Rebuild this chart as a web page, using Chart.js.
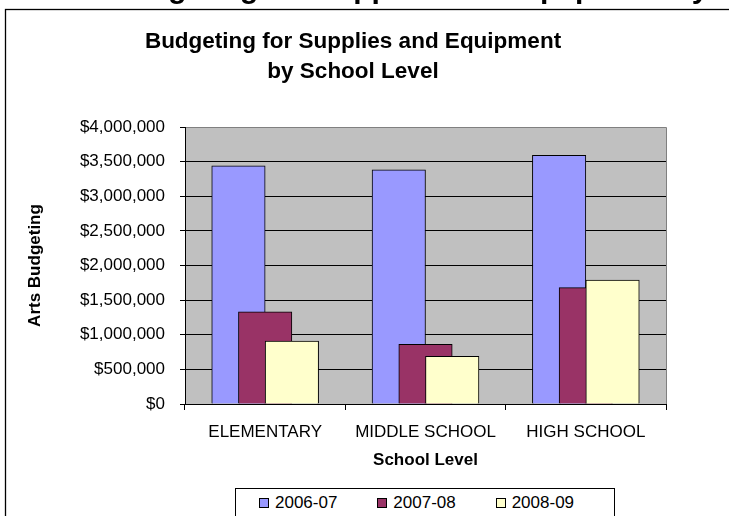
<!DOCTYPE html>
<html>
<head>
<meta charset="utf-8">
<script src="https://cdn.jsdelivr.net/npm/chart.js@4.4.1/dist/chart.umd.min.js"></script>
<style>
  body { margin: 0; background: #fff; overflow: hidden; }
  #wrap { position: relative; width: 729px; height: 516px; }
  #legend {
    position: absolute; left: 235px; top: 488px; width: 380px; height: 40px;
    border: 1px solid #000; background: #fff; box-sizing: border-box;
    padding-left: 23px; display: flex;
    font: 17px "Liberation Sans", Arial, sans-serif; color: #000;
  }
  .item { width: 127px; height: 28px; display: flex; align-items: center; }
  .swatch { width: 8px; height: 8px; border: 1px solid #000; margin-right: 6px; }
</style>
</head>
<body>
<div id="wrap">
  <canvas id="chart" width="729" height="516"></canvas>
  <div id="legend"></div>
</div>
<script>
document.addEventListener("DOMContentLoaded", () => {
    const pageHeading = "Budgeting for Supplies and Equipment by School Level";
    const chartTitle = ["Budgeting for Supplies and Equipment", "by School Level"];
    const categories = ["ELEMENTARY", "MIDDLE SCHOOL", "HIGH SCHOOL"];
    const seriesNames = ["2006-07", "2007-08", "2008-09"];
    const values0607 = [3440000, 3380000, 3590000];
    const values0708 = [1330000, 860000, 1680000];
    const values0809 = [910000, 690000, 1790000];
    const yTicks = [0, 500000, 1000000, 1500000, 2000000, 2500000, 3000000, 3500000, 4000000];
    const seriesColors = ["#9999FF", "#993366", "#FFFFCC"];

    Chart.defaults.font.family = '"Liberation Sans", Arial, sans-serif';
    Chart.defaults.color = "#000";

    // background, outer frame, plot border, and draw datasets in index order (last on top)
    const framePlugin = {
        id: "frame",
        beforeDraw(chart) {
            const { ctx, chartArea: a } = chart;
            ctx.save();
            ctx.fillStyle = "#C0C0C0";
            ctx.fillRect(a.left, a.top, a.right - a.left, a.bottom - a.top);
            ctx.strokeStyle = "#000";
            ctx.lineWidth = 1.3;
            ctx.strokeRect(5.5, 9.5, 900, 700);
            ctx.fillStyle = "#000";
            ctx.font = 'bold 30px "Liberation Sans", Arial, sans-serif';
            ctx.textBaseline = "alphabetic";
            ctx.fillText(pageHeading, 110, -2);
            ctx.restore();
        },
        beforeDatasetDraw() {
            return false;
        },
        afterDatasetsDraw(chart) {
            chart.data.datasets.forEach((d, i) => chart.getDatasetMeta(i).controller.draw());
            const { ctx, chartArea: a } = chart;
            ctx.save();
            ctx.strokeStyle = "#808080";
            ctx.lineWidth = 1;
            ctx.beginPath();
            ctx.moveTo(Math.round(a.left) + 1, Math.round(a.top) + 0.5);
            ctx.lineTo(Math.round(a.right) + 0.5, Math.round(a.top) + 0.5);
            ctx.lineTo(Math.round(a.right) + 0.5, Math.round(a.bottom));
            ctx.stroke();
            ctx.restore();
        }
    };

    const allValues = [values0607, values0708, values0809];

    const chart = new Chart(document.getElementById("chart"), {
        type: "bar",
        data: {
            labels: categories,
            datasets: seriesNames.map((name, i) => ({
                label: name,
                data: allValues[i],
                backgroundColor: seriesColors[i],
                borderColor: "#000",
                borderWidth: 1
            }))
        },
        options: {
            responsive: false,
            animation: false,
            layout: { padding: { top: 0, left: 40, right: 63, bottom: 42 } },
            datasets: {
                bar: { categoryPercentage: 0.5, barPercentage: 2.0 }
            },
            plugins: {
                legend: { display: false },
                tooltip: { enabled: false },
                title: {
                    display: true,
                    text: chartTitle,
                    color: "#000",
                    font: { size: 22.5, weight: "bold", lineHeight: 30 / 22.5 },
                    padding: { top: 27, bottom: 40 }
                }
            },
            scales: {
                x: {
                    grid: {
                        drawOnChartArea: false,
                        drawTicks: true,
                        tickLength: 6,
                        offset: true,
                        color: "#000"
                    },
                    border: { color: "#000", width: 1 },
                    ticks: { font: { size: 17 }, padding: 12, maxRotation: 0 },
                    title: {
                        display: true,
                        text: "School Level",
                        font: { size: 17, weight: "bold" },
                        padding: { top: 3, bottom: 3 }
                    },
                    afterFit(scale) { scale.height = 70; }
                },
                y: {
                    min: 0,
                    max: 4000000,
                    afterBuildTicks(scale) {
                        scale.ticks = yTicks.map(v => ({ value: v }));
                    },
                    grid: {
                        color: ctx => (ctx.tick && ctx.tick.value === 4000000 ? "#808080" : "#000"),
                        tickColor: "#000",
                        tickLength: 5
                    },
                    border: { color: "#000", width: 1 },
                    ticks: {
                        font: { size: 17 },
                        padding: 15,
                        callback: v => "$" + Number(v).toLocaleString("en-US")
                    },
                    title: {
                        display: true,
                        text: "Arts Budgeting",
                        font: { size: 17, weight: "bold" },
                        padding: { top: -15, bottom: 0 }
                    },
                    afterFit(scale) { scale.width = 145; }
                }
            }
        },
        plugins: [framePlugin]
    });

    // HTML legend built from the series
    const legend = document.getElementById("legend");
    seriesNames.forEach((name, i) => {
        const item = document.createElement("div");
        item.className = "item";
        const sw = document.createElement("span");
        sw.className = "swatch";
        sw.style.background = seriesColors[i];
        const txt = document.createElement("span");
        txt.textContent = name;
        item.appendChild(sw);
        item.appendChild(txt);
        legend.appendChild(item);
    });
});
</script>
</body>
</html>
